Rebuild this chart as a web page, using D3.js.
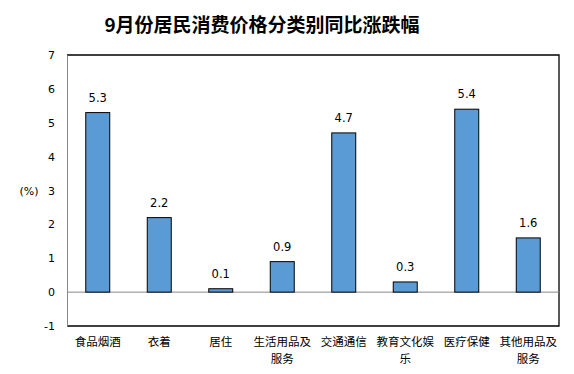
<!DOCTYPE html>
<html lang="zh">
<head>
<meta charset="UTF-8">
<title>9月份居民消费价格分类别同比涨跌幅</title>
<script src="https://d3js.org/d3.v7.min.js"></script>
<style>
  body { margin: 0; background: #fff; }
</style>
</head>
<body>
<div id="chart"></div>
<script>
// Data
const categories = ["食品烟酒", "衣着", "居住", "生活用品及服务", "交通通信", "教育文化娱乐", "医疗保健", "其他用品及服务"];
const values = [5.3, 2.2, 0.1, 0.9, 4.7, 0.3, 5.4, 1.6];
const yTicks = [-1, 0, 1, 2, 3, 4, 5, 6, 7];

const W = 574, H = 374;
const plot = { left: 67, right: 559, top: 55, bottom: 326 };

const svg = d3.select("#chart").append("svg")
  .attr("width", W)
  .attr("height", H);

// Title
svg.append("text")
  .attr("x", 262)
  .attr("y", 32)
  .attr("text-anchor", "middle")
  .style("font-family", "'Noto Sans CJK SC', sans-serif")
  .style("font-weight", "bold")
  .style("font-size", "19px")
  .text("9月份居民消费价格分类别同比涨跌幅");

const x = d3.scaleBand()
  .domain(categories)
  .range([plot.left, plot.right])
  .paddingInner(0.61)
  .paddingOuter(0.305);

const y = d3.scaleLinear()
  .domain([-1, 7])
  .range([plot.bottom, plot.top]);

// Frame: top, right, bottom black
svg.append("path")
  .attr("d", `M${plot.left},${plot.top}H${plot.right}V${plot.bottom}H${plot.left}`)
  .attr("fill", "none")
  .attr("stroke", "#000")
  .attr("stroke-width", 1.3);

// Y axis
const yAxis = svg.append("g")
  .attr("transform", `translate(${plot.left},0)`)
  .call(d3.axisLeft(y).tickValues(yTicks).tickFormat(d => String(d)).tickSize(0).tickPadding(12));
yAxis.select(".domain").attr("stroke", "#888");
yAxis.selectAll("text")
  .style("font-family", "'DejaVu Sans', sans-serif")
  .style("font-size", "11px")
  .attr("fill", "#000");

// Zero line
svg.append("line")
  .attr("x1", plot.left).attr("x2", plot.right)
  .attr("y1", y(0)).attr("y2", y(0))
  .attr("stroke", "#888")
  .attr("stroke-width", 1);

// Unit label
svg.append("text")
  .attr("x", 29)
  .attr("y", y(3) + 4)
  .attr("text-anchor", "middle")
  .style("font-family", "'DejaVu Sans', sans-serif")
  .style("font-size", "11px")
  .text("(%)");

// Bars
svg.selectAll("rect.bar")
  .data(values)
  .enter().append("rect")
  .attr("class", "bar")
  .attr("x", (d, i) => x(categories[i]))
  .attr("y", d => y(Math.max(0, d)))
  .attr("width", x.bandwidth())
  .attr("height", d => Math.abs(y(d) - y(0)))
  .attr("fill", "#5B9BD5")
  .attr("stroke", "#000")
  .attr("stroke-width", 1);

// Value labels
svg.selectAll("text.val")
  .data(values)
  .enter().append("text")
  .attr("class", "val")
  .attr("x", (d, i) => x(categories[i]) + x.bandwidth() / 2)
  .attr("y", d => y(d) - 11)
  .attr("text-anchor", "middle")
  .style("font-family", "'DejaVu Sans', sans-serif")
  .style("font-size", "11.5px")
  .text(d => d.toFixed(1));

// Category labels, wrapped at 5 characters (one text per line)
categories.forEach(c => {
  const cx = x(c) + x.bandwidth() / 2;
  for (let i = 0, row = 0; i < c.length; i += 5, row++) {
    svg.append("text")
      .attr("x", cx)
      .attr("y", 346 + row * 17)
      .attr("text-anchor", "middle")
      .style("font-family", "'Noto Sans CJK SC', sans-serif")
      .style("font-size", "11.5px")
      .text(c.slice(i, i + 5));
  }
});
</script>
</body>
</html>
